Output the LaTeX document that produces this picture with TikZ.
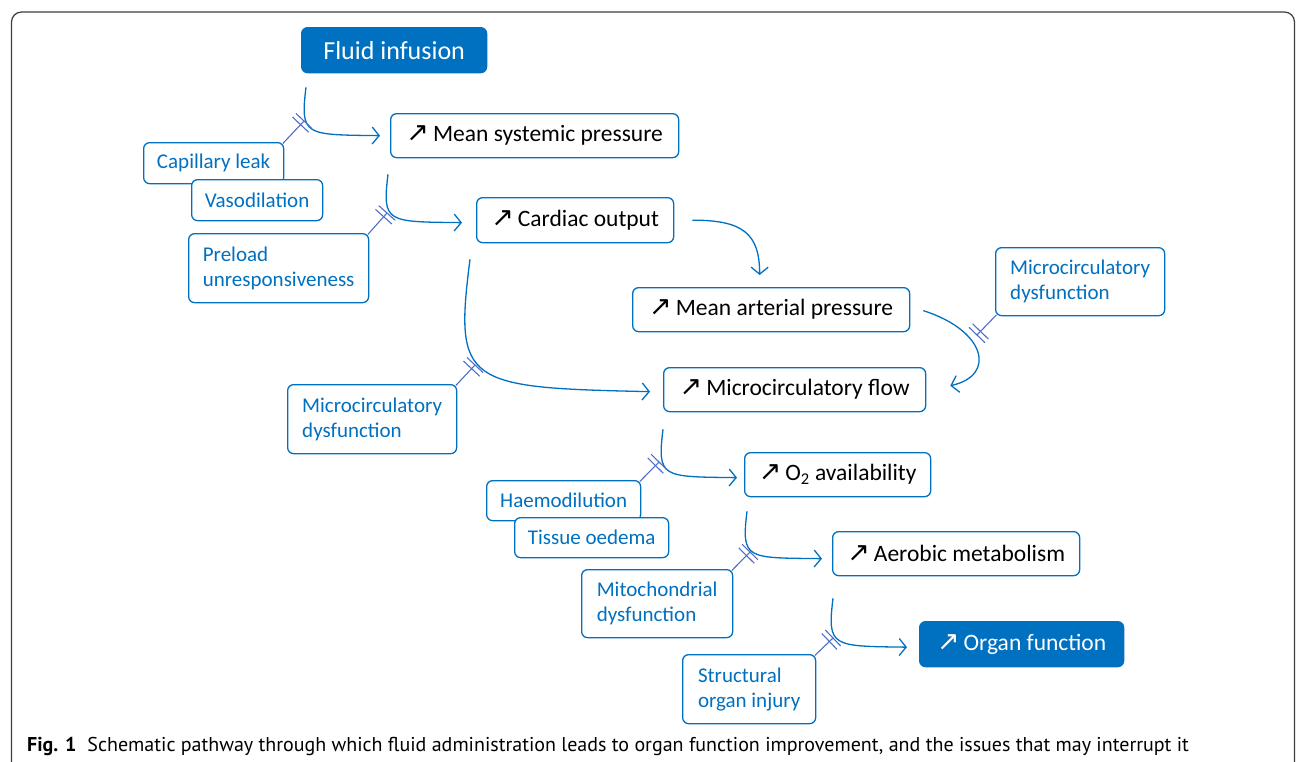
\documentclass[tikz,border=0pt]{standalone}
\usepackage{fontspec}
\setmainfont{Carlito}
\newfontfamily\arrowfont{DejaVu Sans}
\newfontfamily\capfont{PT Sans}
\usetikzlibrary{arrows.meta,calc}
\definecolor{mblue}{RGB}{0,112,192}
\definecolor{ibar}{RGB}{80,110,200}
\definecolor{framegray}{RGB}{60,60,60}
\newcommand{\incarrow}{{\arrowfont\fontsize{27}{27}\selectfont ↗}\hspace{4pt}}
\newcommand{\inhibmark}[2]{%
  \draw[inhib] (#1) -- (#2);
  \draw[inhib] ($(#2)!11pt!90:(#1)$) -- ($(#2)!11pt!-90:(#1)$);
  \draw[inhib] ($(#2)!5pt!(#1)!11pt!90:(#1)$) -- ($(#2)!5pt!(#1)!11pt!-90:(#1)$);
}
\begin{document}
\begin{tikzpicture}[x=1pt,y=-1pt,
  box/.style={draw=mblue, line width=1.3pt, rounded corners=6pt, fill=white, inner sep=0pt, anchor=north west},
  mainbox/.style={box, text=black, font=\fontsize{23.5}{28}\selectfont},
  keybox/.style={box, fill=mblue, text=white},
  issue/.style={box, text=mblue, font=\fontsize{21}{25}\selectfont, align=left},
  flow/.style={draw=mblue, line width=1.3pt, -{Straight Barb[length=7pt,width=17pt,line width=1.3pt]}},
  inhib/.style={draw=ibar, line width=1.1pt},
]
\useasboundingbox (0,0) rectangle (1296,761);
\clip (0,0) rectangle (1296,761);
\draw[framegray, line width=1.2pt, rounded corners=10pt] (11.5,12) rectangle (1294.5,790);

% main pathway boxes
\node[keybox, font=\fontsize{26}{30}\selectfont, minimum width=185, minimum height=45] (fi) at (301,27) {Fluid infusion};
\node[mainbox, minimum width=288, minimum height=44] (msp) at (390,113) {\incarrow Mean systemic pressure};
\node[mainbox, minimum width=197, minimum height=45] (co) at (476,197) {\incarrow Cardiac output};
\node[mainbox, minimum width=277, minimum height=44] (map) at (632,287) {\incarrow Mean arterial pressure};
\node[mainbox, minimum width=262, minimum height=44] (mcf) at (663,367) {\incarrow Microcirculatory flow};
\node[mainbox, minimum width=186, minimum height=44] (o2) at (744,452) {\incarrow O\textsubscript{2} availability};
\node[mainbox, minimum width=247, minimum height=44] (am) at (832,531) {\incarrow Aerobic metabolism};
\node[keybox, font=\fontsize{23.5}{28}\selectfont, minimum width=204, minimum height=45] (of) at (919,621) {\incarrow Organ function};

% issue boxes
\node[issue, minimum width=140, minimum height=41] (cl) at (143,142) {Capillary leak};
\node[issue, minimum width=131, minimum height=41] (vd) at (191,179) {Vasodilation};
\node[issue, minimum width=180, minimum height=69] (pu) at (188,233) {Preload\\unresponsiveness};
\node[issue, minimum width=169, minimum height=69] (mdl) at (287,384) {Microcirculatory\\dysfunction};
\node[issue, minimum width=169, minimum height=68] (mdr) at (995,247) {Microcirculatory\\dysfunction};
\node[issue, minimum width=154, minimum height=40] (hd) at (486,480) {Haemodilution};
\node[issue, minimum width=154, minimum height=40] (to) at (514,517) {Tissue oedema};
\node[issue, minimum width=151, minimum height=68] (mi) at (581,569) {Mitochondrial\\dysfunction};
\node[issue, minimum width=133, minimum height=69] (so) at (682,654) {Structural\\organ injury};

% flow connectors
\draw[flow] ($(fi.south west)+(5,14)$) .. controls +(-6,49) and +(-75,-1) .. ($(msp.west)+(-10,0)$);
\draw[flow] ($(msp.south west)+(-2,16)$) .. controls +(-6,49) and +(-75,-1) .. ($(co.west)+(-14,2.5)$);
\draw[flow] ($(co.east)+(18,0)$) .. controls +(50,0) and +(0,-42) .. ($(map.north)+(-11.5,-12)$);
\draw[flow] ($(co.south west)+(-6,16)$) .. controls +(-16,125) and +(-185,-4) .. ($(mcf.west)+(-13,2)$);
\draw[flow] ($(map.east)+(13,1)$) .. controls +(63,20) and +(46,-10) .. ($(mcf.east)+(24,-4)$);
\draw[flow] ($(mcf.south west)+(0,17)$) .. controls +(-6,49) and +(-75,-1) .. ($(o2.west)+(-7,3)$);
\draw[flow] ($(o2.south west)+(3,14)$) .. controls +(-6,49) and +(-75,-1) .. ($(am.west)+(-10,5)$);
\draw[flow] ($(am.south west)+(1,22)$) .. controls +(-6,49) and +(-75,-1) .. ($(of.west)+(-12,3)$);

% inhibitors: from issue box to the blocked connector
\coordinate (a1) at ($(cl.north east)+(-1.5,1.5)$);  \coordinate (b1) at (304,121);
\coordinate (a2) at ($(pu.north east)+(-1.5,1.5)$);  \coordinate (b2) at (387,213);
\coordinate (a4) at ($(mdl.north east)+(-1.5,1.5)$); \coordinate (b4) at (475,365);
\coordinate (a5) at ($(mdr.south west)+(1.5,-1.5)$); \coordinate (b5) at (977,335);
\coordinate (a6) at ($(hd.north east)+(-1.5,1.5)$);  \coordinate (b6) at (659,462);
\coordinate (a7) at ($(mi.north east)+(-1.5,1.5)$);  \coordinate (b7) at (750,552);
\coordinate (a8) at ($(so.north east)+(-1.5,1.5)$);  \coordinate (b8) at (833,638);
\inhibmark{a1}{b1}
\inhibmark{a2}{b2}
\inhibmark{a4}{b4}
\inhibmark{a5}{b5}
\inhibmark{a6}{b6}
\inhibmark{a7}{b7}
\inhibmark{a8}{b8}

% caption
\node[anchor=base west, inner sep=0pt, font=\capfont\fontsize{20}{24}\selectfont, text=black] (cap) at (27,751) {\textbf{Fig. 1}\hspace{11pt}Schematic pathway through which fluid administration leads to organ function improvement, and the issues that may interrupt it};
\end{tikzpicture}
\end{document}
